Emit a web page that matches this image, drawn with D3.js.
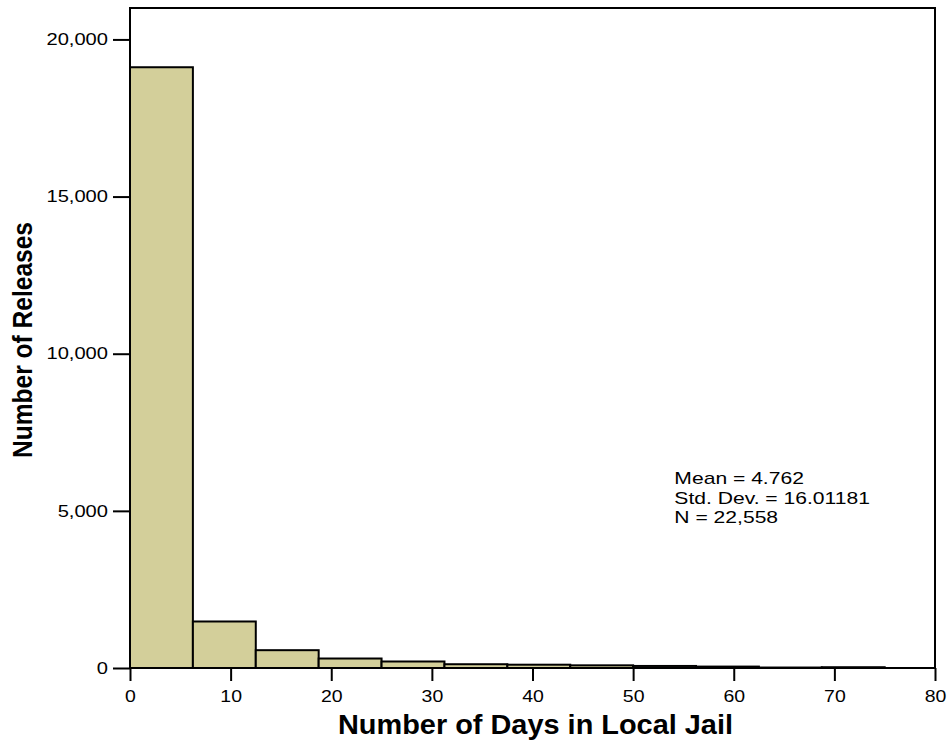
<!DOCTYPE html>
<html>
<head>
<meta charset="utf-8">
<script src="https://cdn.jsdelivr.net/npm/d3@7"></script>
<style>
  html, body { margin: 0; padding: 0; background: #fff; }
  svg text { font-family: "Liberation Sans", Arial, sans-serif; fill: #000; }
</style>
</head>
<body>
<svg id="chart" width="948" height="740"></svg>
<script>
// Histogram bins (days) and release counts per bin
const binStarts = [0, 6.25, 12.5, 18.75, 25, 31.25, 37.5, 43.75, 50, 56.25, 62.5, 68.75];
const binEnds   = [6.25, 12.5, 18.75, 25, 31.25, 37.5, 43.75, 50, 56.25, 62.5, 68.75, 75];
const counts    = [19115, 1480, 567, 302, 207, 120, 105, 85, 65, 45, 15, 25];

const xTicks = [0, 10, 20, 30, 40, 50, 60, 70, 80];
const yTicks = [0, 5000, 10000, 15000, 20000];

const statLines = ["Mean = 4.762", "Std. Dev. = 16.01181", "N = 22,558"];
const xTitle = "Number of Days in Local Jail";
const yTitle = "Number of Releases";

const W = 948, H = 740;
const margin = { top: 8, right: 13, bottom: 72, left: 130 };
const innerW = W - margin.left - margin.right;
const innerH = H - margin.top - margin.bottom;

const svg = d3.select("#chart");
const g = svg.append("g").attr("transform", `translate(${margin.left},${margin.top})`);

const x = d3.scaleLinear().domain([0, 80]).range([0, innerW]);
const y = d3.scaleLinear().domain([0, 21000]).range([innerH, 0]);

// widen or narrow text by a factor of its natural width
function stretch(sel, factor) {
  sel.each(function () {
    const len = this.getComputedTextLength();
    d3.select(this).attr("textLength", len * factor).attr("lengthAdjust", "spacingAndGlyphs");
  });
}
// set text to an exact rendered length
function fitTo(sel, len) {
  sel.attr("textLength", len).attr("lengthAdjust", "spacingAndGlyphs");
}

// bars
const bins = counts.map((c, i) => ({ x0: binStarts[i], x1: binEnds[i], n: c }));
g.selectAll("rect.bar")
  .data(bins)
  .join("rect")
  .attr("class", "bar")
  .attr("x", d => x(d.x0))
  .attr("width", d => x(d.x1) - x(d.x0))
  .attr("y", d => y(d.n))
  .attr("height", d => y(0) - y(d.n))
  .attr("fill", "#d3cf9a")
  .attr("stroke", "#000")
  .attr("stroke-width", 2);

// frame
g.append("rect")
  .attr("x", 0).attr("y", 0)
  .attr("width", innerW).attr("height", innerH)
  .attr("fill", "none")
  .attr("stroke", "#000")
  .attr("stroke-width", 2);

// x axis
const xAxis = g.append("g")
  .attr("transform", `translate(0,${innerH})`)
  .call(d3.axisBottom(x).tickValues(xTicks).tickSize(13).tickPadding(9).tickFormat(d3.format("d")));
xAxis.select(".domain").remove();
xAxis.selectAll(".tick line").attr("stroke", "#000").attr("stroke-width", 2);
xAxis.selectAll(".tick text")
  .attr("font-size", 16.5)
  .attr("font-family", "Liberation Sans, Arial, sans-serif")
  .call(stretch, 1.18);

// y axis
const yAxis = g.append("g")
  .call(d3.axisLeft(y).tickValues(yTicks).tickSize(17).tickPadding(5).tickFormat(d3.format(",")));
yAxis.select(".domain").remove();
yAxis.selectAll(".tick line").attr("stroke", "#000").attr("stroke-width", 2);
yAxis.selectAll(".tick text")
  .attr("font-size", 16.5)
  .attr("font-family", "Liberation Sans, Arial, sans-serif")
  .call(stretch, 1.22);

// summary statistics
g.append("g")
  .selectAll("text")
  .data(statLines)
  .join("text")
  .attr("x", x(54.1))
  .attr("y", (d, i) => y(5850) + i * 19.5)
  .attr("font-size", 17)
  .text(d => d)
  .call(stretch, 1.24);

// axis titles
svg.append("text")
  .attr("x", margin.left + innerW / 2 + 3)
  .attr("y", H - 6)
  .attr("text-anchor", "middle")
  .attr("font-size", 27)
  .attr("font-weight", "bold")
  .text(xTitle)
  .call(fitTo, 395);

svg.append("text")
  .attr("transform", `translate(32,${margin.top + innerH / 2 + 2}) rotate(-90)`)
  .attr("text-anchor", "middle")
  .attr("font-size", 27)
  .attr("font-weight", "bold")
  .text(yTitle)
  .call(fitTo, 236);
</script>
</body>
</html>
